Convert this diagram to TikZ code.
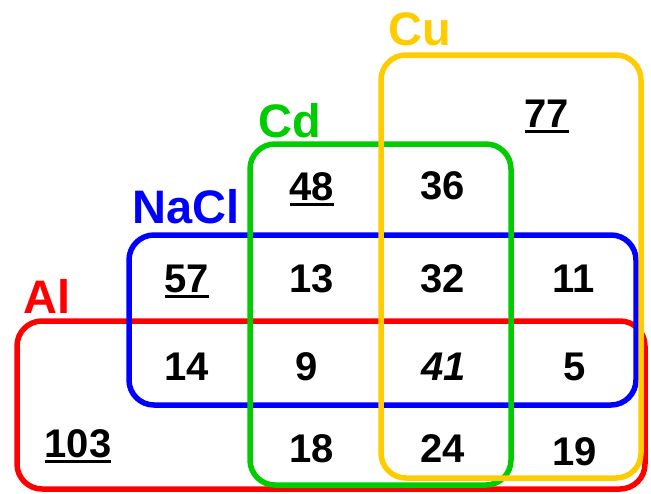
\documentclass[tikz,border=0pt]{standalone}
\usepackage{fontspec}
\setmainfont{Liberation Sans}
\definecolor{cred}{HTML}{FF0000}
\definecolor{cblue}{HTML}{0000FF}
\definecolor{cgreen}{HTML}{00CC00}
\definecolor{cyellow}{HTML}{FFCC00}
\newcommand{\myul}[1]{\setbox0\hbox{#1}\rlap{\rule[-5.5pt]{\wd0}{3pt}}\box0}
\begin{document}
\begin{tikzpicture}[x=1pt,y=-1pt,
  setbox/.style={line width=5.5pt,rounded corners=25pt},
  num/.style={inner sep=0pt,anchor=base,font=\fontsize{40}{48}\selectfont\bfseries},
  setlabel/.style={inner sep=0pt,anchor=base west,font=\fontsize{47}{56}\selectfont\bfseries}]
\useasboundingbox (0,0) rectangle (651,493);
\draw[setbox,cred] (17,321) rectangle (645,489);
\draw[setbox,cblue] (129,235) rectangle (636,405);
\draw[setbox,cgreen] (250,144) rectangle (511,485);
\draw[setbox,cyellow] (381,55) rectangle (641,478);
\node[setlabel,text=cyellow] (lcu) at (388,45) {Cu};
\node[setlabel,text=cgreen] (lcd) at (258,137) {Cd};
\node[setlabel,text=cblue] (lnacl) at (132,223) {NaCl};
\node[setlabel,text=cred] (lal) at (23,313) {Al};
\node[num] (n77) at (547,127) {\myul{77}};
\node[num] (n48) at (312,200) {\myul{48}};
\node[num] (n36) at (443,199) {36};
\node[num] (n57) at (187,292) {\myul{57}};
\node[num] (n13) at (312,292) {13};
\node[num] (n32) at (443,292) {32};
\node[num] (n11) at (574,292) {11};
\node[num] (n14) at (187,380) {14};
\node[num] (n9) at (307,380) {9};
\node[num] (n41) at (444,380) {\itshape 41};
\node[num] (n5) at (575,380) {5};
\node[num] (n103) at (78,457) {\myul{103}};
\node[num] (n18) at (312,462) {18};
\node[num] (n24) at (443,462) {24};
\node[num] (n19) at (575,465) {19};
\end{tikzpicture}
\end{document}
